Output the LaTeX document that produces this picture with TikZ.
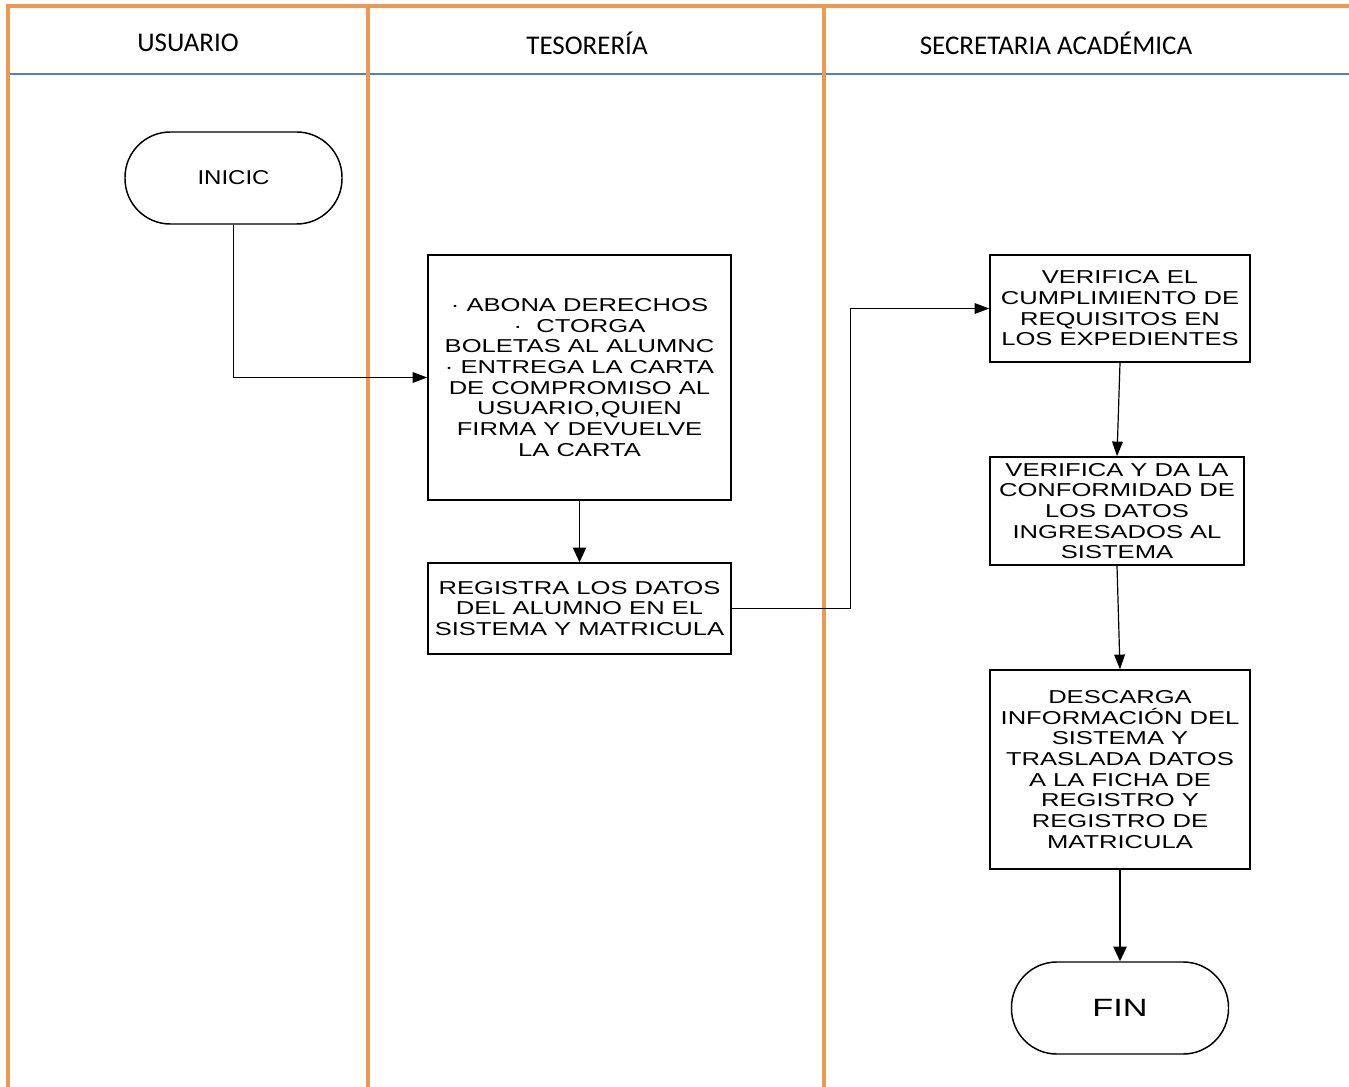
\documentclass[tikz,border=0pt]{standalone}
\usepackage{fontspec}
\setmainfont{Liberation Sans}
\newfontfamily\arialw[FakeStretch=1.37]{Liberation Sans}
\newfontfamily\arialini[FakeStretch=1.2]{Liberation Sans}
\newfontfamily\calib{Carlito}
\usetikzlibrary{arrows.meta}
\definecolor{laneorange}{RGB}{239,152,80}
\definecolor{headblue}{RGB}{84,130,184}
\begin{document}
\begin{tikzpicture}[x=0.75pt,y=-0.75pt,
  lane/.style={draw=laneorange,line width=3.2pt},
  sep/.style={draw=headblue,line width=1.8pt},
  header/.style={font=\calib\fontsize{20.25}{24}\selectfont,inner sep=0pt},
  procbox/.style={draw=black,line width=1.1pt,align=center,inner sep=2pt,
    font=\arialw\fontsize{14}{15.5}\selectfont},
  terminal/.style={draw=black,line width=1.1pt,rounded corners=34pt,
    minimum width=162.75pt,minimum height=69pt,inner sep=0pt},
  flowthin/.style={draw=black,line width=0.7pt,-{Triangle[length=11pt,width=8pt]}},
  flowthick/.style={draw=black,line width=1.2pt,-{Triangle[length=11pt,width=10pt]}}
]
\useasboundingbox (0,0) rectangle (1349,1087);
\fill[white] (0,0) rectangle (1349,1087);

% swimlane frame
\draw[sep] (8,74) -- (1349,74);
\draw[lane] (8,1087) -- (8,6) -- (1349,6);
\draw[lane] (368,6) -- (368,1087);
\draw[lane] (824,6) -- (824,1087);

% headers
\node[header] (h1) at (188,43) {USUARIO};
\node[header] (h2) at (587,43) {TESORERÍA};
\node[header] (h3) at (1056,43) {SECRETARIA ACADÉMICA};

% nodes
\node[terminal,font=\arialini\fontsize{15}{18}\selectfont] (ini) at (233.5,178) {INICIC};

\node[procbox,minimum width=227.25pt,minimum height=183.75pt] (b1) at (579.5,377.5)
  {· ABONA DERECHOS\\·\ \ CTORGA\\BOLETAS AL ALUMNC\\· ENTREGA LA CARTA\\DE COMPROMISO AL\\USUARIO,QUIEN\\FIRMA Y DEVUELVE\\LA CARTA};

\node[procbox,minimum width=227.25pt,minimum height=68.25pt] (b2) at (579.5,608.5)
  {REGISTRA LOS DATOS\\DEL ALUMNO EN EL\\SISTEMA Y MATRICULA};

\node[procbox,minimum width=195pt,minimum height=80.25pt] (b3) at (1120,308.5)
  {VERIFICA EL\\CUMPLIMIENTO DE\\REQUISITOS EN\\LOS EXPEDIENTES};

\node[procbox,minimum width=190.5pt,minimum height=81pt] (b4) at (1117,511)
  {VERIFICA Y DA LA\\CONFORMIDAD DE\\LOS DATOS\\INGRESADOS AL\\SISTEMA};

\node[procbox,minimum width=195pt,minimum height=149.25pt] (b5) at (1120,769.5)
  {DESCARGA\\INFORMACIÓN DEL\\SISTEMA Y\\TRASLADA DATOS\\A LA FICHA DE\\REGISTRO Y\\REGISTRO DE\\MATRICULA};

\node[terminal,font=\arialw\fontsize{18.75}{22}\selectfont] (fin) at (1120,1008) {FIN};

% connectors
\coordinate (k) at (850,0);
\draw[flowthin] (ini.south) |- (b1.west);
\draw[flowthick] (b1.south) -- (b2.north);
\draw[flowthin] (b2.east) -- (b2.east -| k) |- (b3.west);
\draw[flowthin,line width=0.9pt] (b3.south) -- (b4.north);
\draw[flowthin,line width=0.9pt] (b4.south) -- (b5.north);
\draw[flowthick] (b5.south) -- (fin.north);
\end{tikzpicture}
\end{document}
